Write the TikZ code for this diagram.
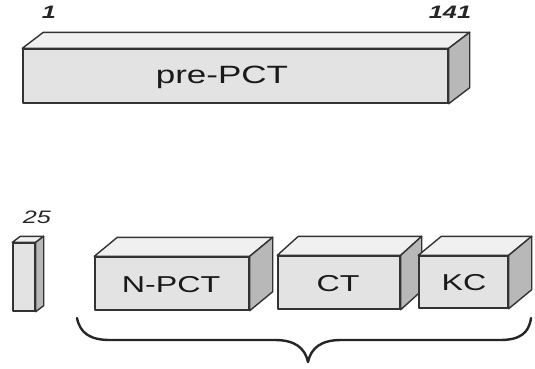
\documentclass[tikz,border=0pt]{standalone}
\usepackage{fontspec}
\newfontfamily\labfont[FakeStretch=1.4]{Liberation Sans}
\tikzset{
  frontface/.style={draw=black!80, line width=1.4pt, fill=black!11, inner sep=0pt, line join=round},
  topface/.style={draw=black!80, line width=1.4pt, fill=black!6, line join=round},
  sideface/.style={draw=black!80, line width=1.4pt, fill=black!28, line join=round},
  boxtext/.style={font=\labfont\fontsize{23}{27}\selectfont, text=black!90, inner sep=0pt},
  bigtext/.style={font=\labfont\fontsize{25}{30}\selectfont, text=black!90, inner sep=0pt},
  numtext/.style={font=\labfont\itshape\fontsize{18}{22}\selectfont, text=black!85, inner sep=0pt},
  boldnum/.style={font=\labfont\bfseries\itshape\fontsize{18}{22}\selectfont, text=black!85, inner sep=0pt},
  bracestyle/.style={line width=2.4pt, draw=black!85, line cap=round, line join=round}
}
\newcommand\blockfaces[3]{%
  \draw[topface] (#1.north west) -- ++(#2,#3) -- ([shift={(#2,#3)}]#1.north east) -- (#1.north east) -- cycle;
  \draw[sideface] (#1.north east) -- ([shift={(#2,#3)}]#1.north east) -- ([shift={(#2,#3)}]#1.south east) -- (#1.south east) -- cycle;
}
\begin{document}
\begin{tikzpicture}[x=1pt,y=-1pt]
\useasboundingbox (0,0) rectangle (535,368);
% top precursor
\node[frontface, minimum width=425pt, minimum height=54pt] (pre) at (235.5,76) {};
\blockfaces{pre}{21}{-16}
\node[bigtext] (pret) at (222,77) {pre-PCT};
\node[boldnum] (n1) at (49,12) {1};
\node[boldnum] (n141) at (450,12) {141};
% bottom pieces
\node[frontface, minimum width=22pt, minimum height=68pt] (sig) at (24,277) {};
\blockfaces{sig}{8}{-6}
\node[numtext] (n25) at (37,217) {25};
\node[frontface, minimum width=154pt, minimum height=53pt] (npct) at (172,283.5) {};
\blockfaces{npct}{23}{-19}
\node[boxtext] at (171,285) {N-PCT};
\node[frontface, minimum width=122pt, minimum height=53pt] (ct) at (339,282.5) {};
\blockfaces{ct}{21}{-19}
\node[boxtext] at (338,284) {CT};
\node[frontface, minimum width=89pt, minimum height=52pt] (kc) at (463.5,282) {};
\blockfaces{kc}{23}{-19}
\node[boxtext] at (464,283) {KC};
% brace
\coordinate (bl) at (77,318);
\coordinate (br) at (531,318);
\coordinate (bt) at (308,362);
\draw[bracestyle] (bl) .. controls (80,333) and (90,340) .. (110,340) -- (275,340)
  .. controls (295,340) and (305,348) .. (bt)
  .. controls (311,348) and (321,340) .. (341,340) -- (500,340)
  .. controls (520,340) and (529,333) .. (br);
\end{tikzpicture}
\end{document}
